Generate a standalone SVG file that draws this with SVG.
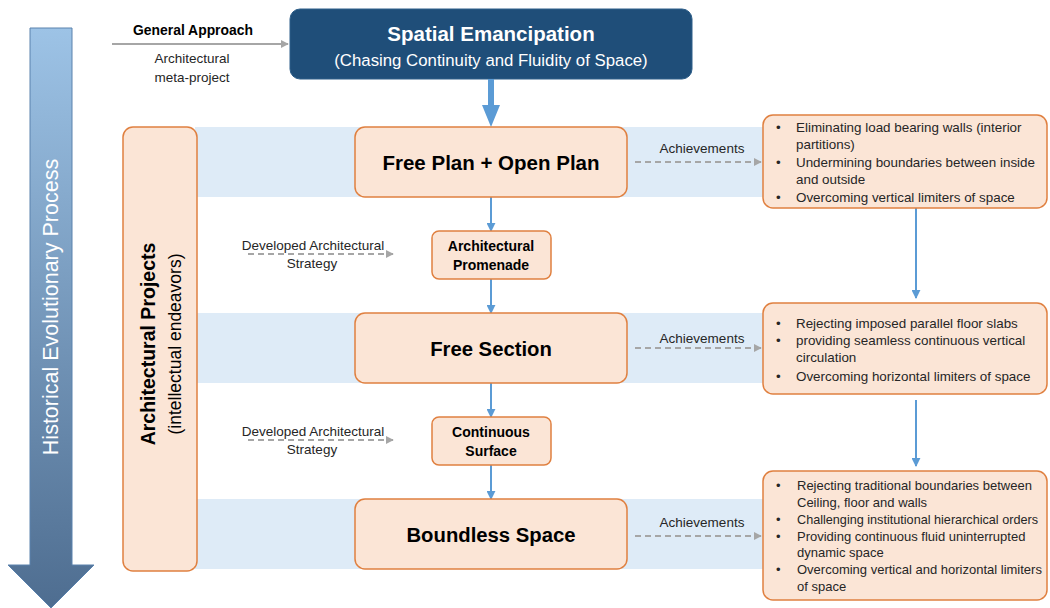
<svg xmlns="http://www.w3.org/2000/svg" width="1050" height="608" viewBox="0 0 1050 608">
<defs>
<linearGradient id="histGrad" x1="0" y1="0" x2="0" y2="1">
<stop offset="0" stop-color="#9dc3e6"/>
<stop offset="1" stop-color="#4e6d90"/>
</linearGradient>
<marker id="grayHead" viewBox="0 0 10 10" refX="9" refY="5" markerWidth="8" markerHeight="8" markerUnits="userSpaceOnUse" orient="auto">
<path d="M0,0 L10,5 L0,10 z" fill="#a6a6a6"/>
</marker>
<marker id="blueHead" viewBox="0 0 10 10" refX="9" refY="5" markerWidth="9" markerHeight="9" markerUnits="userSpaceOnUse" orient="auto">
<path d="M0,0 L10,5 L0,10 z" fill="#5b9bd5"/>
</marker>
</defs>
<style>
text { font-family: "Liberation Sans", Arial, sans-serif; }
.band { fill: #deebf7; }
.node { fill: #fbe5d6; stroke: #e08040; stroke-width: 1.5; }
.title { font-weight: bold; fill: #000; text-anchor: middle; }
.lbl { font-size: 13.5px; fill: #262626; text-anchor: middle; }
.bul { font-size: 13.4px; fill: #262626; }
.bul3 { font-size: 13px; fill: #262626; }
.dash { stroke: #a6a6a6; stroke-width: 2; stroke-dasharray: 6 4; fill: none; marker-end: url(#grayHead); }
.blue { stroke: #5b9bd5; stroke-width: 2; fill: none; marker-end: url(#blueHead); }
</style>

<g id="bands">
<rect class="band" x="195" y="127" width="570" height="70"/>
<rect class="band" x="195" y="313" width="570" height="70"/>
<rect class="band" x="195" y="499" width="570" height="70"/>
</g>

<g id="history">
<path d="M30,28 H72 V565 H94 L51,608 L8,565 H30 Z" fill="url(#histGrad)" stroke="#5a82ad" stroke-width="1"/>
<text transform="translate(58,307) rotate(-90)" text-anchor="middle" font-size="21.5" fill="#ffffff">Historical Evolutionary Process</text>
</g>

<g id="general-approach">
<line x1="112" y1="44" x2="288" y2="44" stroke="#a6a6a6" stroke-width="2" marker-end="url(#grayHead)"/>
<text x="193" y="35" text-anchor="middle" font-size="13.9" font-weight="bold" fill="#000">General Approach</text>
<text x="192" y="63" class="lbl" font-size="15.5">Architectural</text>
<text x="192" y="82" class="lbl" font-size="15.5">meta-project</text>
</g>

<g id="spatial-emancipation">
<rect x="290" y="9" width="402" height="70" rx="10" fill="#1f4e79" stroke="#2e5f8a" stroke-width="1"/>
<text x="491" y="41" text-anchor="middle" font-size="20.5" font-weight="bold" fill="#ffffff">Spatial Emancipation</text>
<text x="491" y="66" text-anchor="middle" font-size="16.8" fill="#ffffff">(Chasing Continuity and Fluidity of Space)</text>
</g>

<g id="architectural-projects">
<rect class="node" x="123" y="127" width="74" height="444" rx="10"/>
<text transform="translate(155,344) rotate(-90)" class="title" font-size="19.5">Architectural Projects</text>
<text transform="translate(181,344) rotate(-90)" text-anchor="middle" font-size="17.5" fill="#000">(intellectual endeavors)</text>
</g>

<g id="connectors">
<line x1="491" y1="79" x2="491" y2="106" stroke="#5b9bd5" stroke-width="6"/>
<path d="M482,105 H500 L491,127 Z" fill="#5b9bd5"/>
<line class="blue" x1="491" y1="197" x2="491" y2="231"/>
<line class="blue" x1="491" y1="279" x2="491" y2="313"/>
<line class="blue" x1="491" y1="383" x2="491" y2="417"/>
<line class="blue" x1="491" y1="465" x2="491" y2="499"/>
<line class="blue" x1="916" y1="208" x2="916" y2="298"/>
<line class="blue" x1="916" y1="400" x2="916" y2="466"/>
<line class="dash" x1="248" y1="254" x2="393" y2="254"/>
<line class="dash" x1="248" y1="440" x2="393" y2="440"/>
<line class="dash" x1="635" y1="162" x2="761" y2="162"/>
<line class="dash" x1="635" y1="348" x2="761" y2="348"/>
<line class="dash" x1="635" y1="536" x2="761" y2="536"/>
</g>

<g id="edge-labels">
<text class="lbl" x="313" y="250">Developed Architectural</text>
<text class="lbl" x="312" y="268">Strategy</text>
<text class="lbl" x="313" y="436">Developed Architectural</text>
<text class="lbl" x="312" y="454">Strategy</text>
<text class="lbl" x="702" y="153">Achievements</text>
<text class="lbl" x="702" y="343">Achievements</text>
<text class="lbl" x="702" y="527">Achievements</text>
</g>

<g id="free-plan">
<rect class="node" x="355" y="127" width="272" height="70" rx="10"/>
<text class="title" x="491" y="170" font-size="20.5">Free Plan + Open Plan</text>
</g>

<g id="architectural-promenade">
<rect class="node" x="432" y="231" width="119" height="48" rx="7"/>
<text class="title" x="491" y="251" font-size="14">Architectural</text>
<text class="title" x="491" y="270" font-size="14">Promenade</text>
</g>

<g id="free-section">
<rect class="node" x="355" y="313" width="272" height="70" rx="10"/>
<text class="title" x="491" y="356" font-size="20.3">Free Section</text>
</g>

<g id="continuous-surface">
<rect class="node" x="432" y="417" width="119" height="48" rx="7"/>
<text class="title" x="491" y="437" font-size="14">Continuous</text>
<text class="title" x="491" y="456" font-size="14">Surface</text>
</g>

<g id="boundless-space">
<rect class="node" x="355" y="499" width="272" height="70" rx="10"/>
<text class="title" x="491" y="542" font-size="20.3">Boundless Space</text>
</g>

<g id="achievements-1">
<rect class="node" x="763" y="115" width="284" height="93" rx="10"/>
<text class="bul" x="776" y="132">•</text><text class="bul" x="796" y="132">Eliminating load bearing walls (interior</text>
<text class="bul" x="796" y="149">partitions)</text>
<text class="bul" x="776" y="167">•</text><text class="bul" x="796" y="167">Undermining boundaries between inside</text>
<text class="bul" x="796" y="184">and outside</text>
<text class="bul" x="776" y="202">•</text><text class="bul" x="796" y="202">Overcoming vertical limiters of space</text>
</g>

<g id="achievements-2">
<rect class="node" x="763" y="303" width="284" height="91" rx="10"/>
<text class="bul" x="776" y="328">•</text><text class="bul" x="796" y="328">Rejecting imposed parallel floor slabs</text>
<text class="bul" x="776" y="345">•</text><text class="bul" x="796" y="345">providing seamless continuous vertical</text>
<text class="bul" x="796" y="362">circulation</text>
<text class="bul" x="776" y="381">•</text><text class="bul" x="796" y="381">Overcoming horizontal limiters of space</text>
</g>

<g id="achievements-3">
<rect class="node" x="763" y="471" width="284" height="129" rx="10"/>
<text class="bul3" x="776" y="490">•</text><text class="bul3" x="797" y="490">Rejecting traditional boundaries between</text>
<text class="bul3" x="797" y="507">Ceiling, floor and walls</text>
<text class="bul3" x="776" y="524">•</text><text class="bul3" x="797" y="524" textLength="241" lengthAdjust="spacingAndGlyphs">Challenging institutional hierarchical orders</text>
<text class="bul3" x="776" y="541">•</text><text class="bul3" x="797" y="541">Providing continuous fluid uninterrupted</text>
<text class="bul3" x="797" y="557">dynamic space</text>
<text class="bul3" x="776" y="574">•</text><text class="bul3" x="797" y="574">Overcoming vertical and horizontal limiters</text>
<text class="bul3" x="797" y="591">of space</text>
</g>
</svg>
